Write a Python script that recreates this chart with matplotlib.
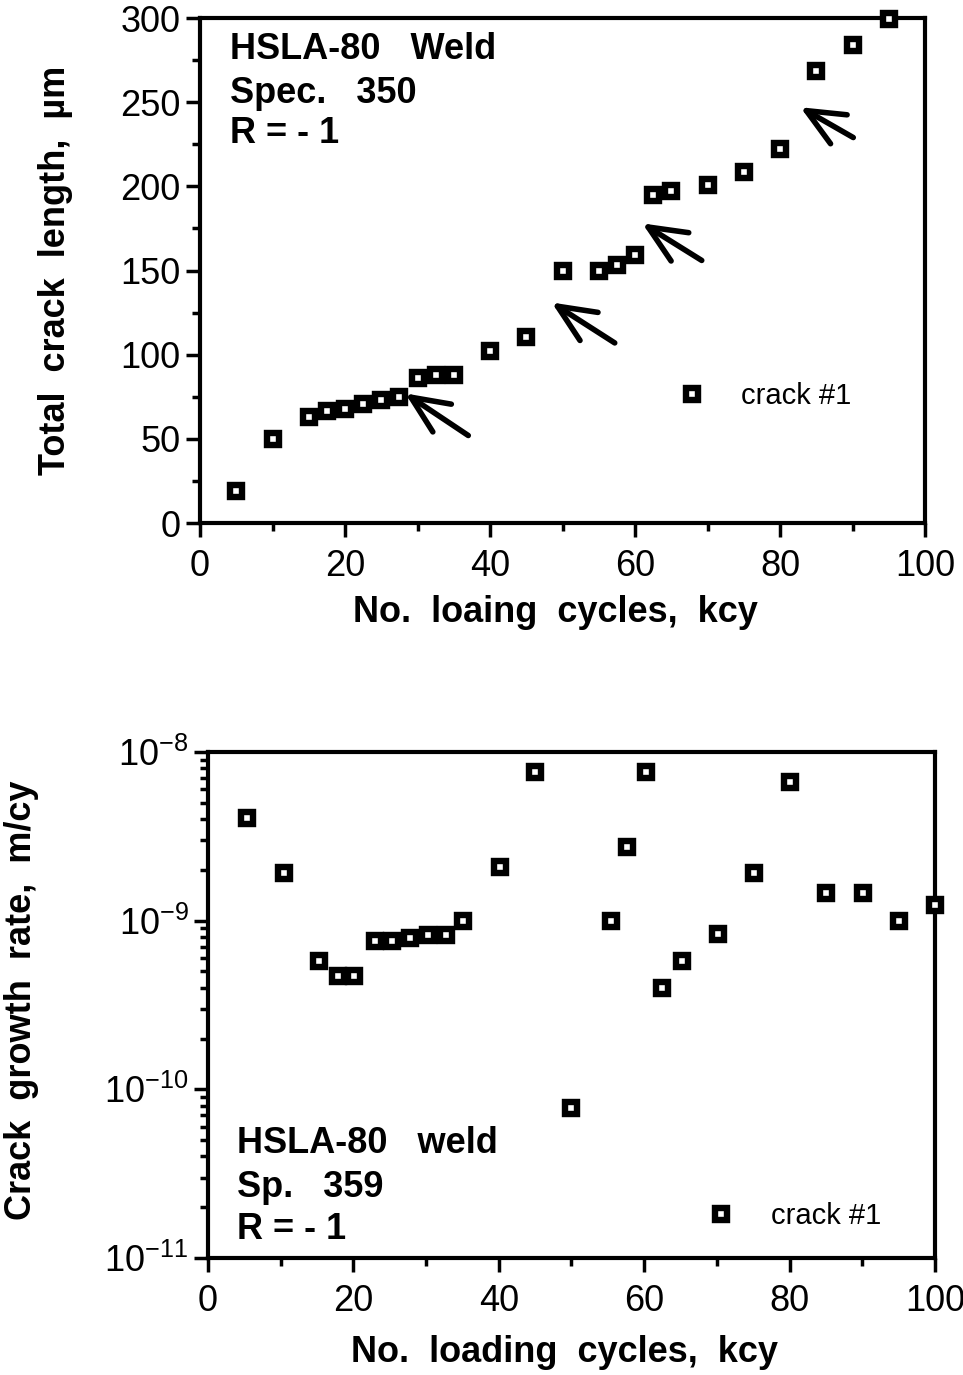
import numpy as np
import matplotlib
matplotlib.use('Agg')
from matplotlib import pyplot as plt
from matplotlib.lines import Line2D
from matplotlib.ticker import MultipleLocator, LogLocator, FixedLocator, NullFormatter

plt.rcParams['font.family'] = ['Liberation Sans', 'DejaVu Sans']
plt.rcParams['mathtext.default'] = 'regular'

# top panel: total crack length vs cycles
cyc_top = [5, 10, 15, 17.5, 20, 22.5, 25, 27.5, 30, 32.5, 35, 40, 45,
           50, 55, 57.5, 60, 62.5, 65, 70, 75, 80, 85, 90, 95]
length_um = [19, 50, 63, 66.5, 68, 71, 73, 75, 86, 88, 88, 102, 110.5,
             150, 150, 153, 159, 195, 197, 201, 208.5, 222, 268.5, 284, 299.5]
# arrows (tip, tail) in data units
arrows_top = [((28.3, 77), (37, 52)),
              ((48.5, 131), (57.2, 107)),
              ((61, 178), (69.2, 156)),
              ((82.8, 247), (90.1, 229))]

# bottom panel: crack growth rate vs cycles
cyc_bot = [5.4, 10.4, 15.3, 17.9, 20.1, 23, 25.3, 27.8, 30.2, 32.8, 35.1, 40.1,
           45, 50, 55.4, 57.6, 60.2, 62.5, 65.2, 70.2, 75.1, 80.1, 85, 90.1, 95.1, 100]
rate = [4.07e-9, 1.92e-9, 5.8e-10, 4.7e-10, 4.7e-10, 7.6e-10, 7.6e-10, 7.9e-10,
        8.2e-10, 8.2e-10, 1.0e-9, 2.09e-9, 7.6e-9, 7.7e-11, 9.9e-10, 2.72e-9,
        7.6e-9, 4.0e-10, 5.8e-10, 8.3e-10, 1.92e-9, 6.65e-9, 1.46e-9, 1.46e-9,
        9.9e-10, 1.24e-9]

mk = dict(marker='s', ls='none', ms=8.5, mew=4.6, mfc='white', mec='black')
FS = 26

fig = plt.figure(figsize=(9.63, 13.75), dpi=100)

# ---- top
ax1 = fig.add_axes([0.2077, 0.6196, 0.7529, 0.3673])
ax1.plot(cyc_top, length_um, clip_on=False, zorder=5, **mk)
for tip, tail in arrows_top:
    ax1.annotate('', xy=tip, xytext=tail,
                 arrowprops=dict(arrowstyle='->,head_length=0.9,head_width=0.4',
                                 lw=4, color='black', mutation_scale=30,
                                 shrinkA=0, shrinkB=0))
ax1.set_xlim(0, 100)
ax1.set_ylim(0, 300)
ax1.xaxis.set_major_locator(MultipleLocator(20))
ax1.xaxis.set_minor_locator(MultipleLocator(10))
ax1.yaxis.set_major_locator(MultipleLocator(50))
ax1.yaxis.set_minor_locator(MultipleLocator(25))
ax1.set_xlabel('No.  loaing  cycles,  kcy', fontsize=FS, fontweight='bold')
ax1.set_ylabel('Total  crack  length,  \u00b5m', fontsize=FS, fontweight='bold')
ax1.xaxis.set_label_coords(0.49, -0.178)
ax1.yaxis.set_label_coords(-0.2, 0.5)
ax1.text(0.041, 0.937, 'HSLA-80   Weld', transform=ax1.transAxes, fontsize=FS,
         fontweight='bold', va='center')
ax1.text(0.041, 0.851, 'Spec.   350', transform=ax1.transAxes, fontsize=FS,
         fontweight='bold', va='center')
ax1.text(0.041, 0.772, 'R = - 1', transform=ax1.transAxes, fontsize=FS,
         fontweight='bold', va='center')
h = Line2D([], [], **mk)
ax1.legend([h], ['crack #1'], loc='center left', bbox_to_anchor=(0.622, 0.251),
           frameon=False, fontsize=21, handlelength=1.0, handletextpad=1.2)

# ---- bottom
ax2 = fig.add_axes([0.216, 0.0851, 0.7549, 0.368])
ax2.plot(cyc_bot, rate, clip_on=False, zorder=5, **mk)
ax2.set_yscale('log')
ax2.set_xlim(0, 100)
ax2.set_ylim(1e-11, 1e-8)
ax2.xaxis.set_major_locator(MultipleLocator(20))
ax2.xaxis.set_minor_locator(MultipleLocator(10))
ax2.yaxis.set_major_locator(FixedLocator([1e-11, 1e-10, 1e-9, 1e-8]))
ax2.yaxis.set_minor_locator(LogLocator(base=10, subs=np.arange(2, 10)))
ax2.yaxis.set_minor_formatter(NullFormatter())
ax2.set_yticklabels(['10$^{- 11}$', '10$^{- 10}$', '10$^{- 9}$', '10$^{- 8}$'])
ax2.set_xlabel('No.  loading  cycles,  kcy', fontsize=FS, fontweight='bold')
ax2.set_ylabel('Crack  growth  rate,  m/cy', fontsize=FS, fontweight='bold')
ax2.xaxis.set_label_coords(0.49, -0.186)
ax2.yaxis.set_label_coords(-0.256, 0.51)
ax2.text(0.04, 0.227, 'HSLA-80   weld', transform=ax2.transAxes, fontsize=FS,
         fontweight='bold', va='center')
ax2.text(0.04, 0.14, 'Sp.   359', transform=ax2.transAxes, fontsize=FS,
         fontweight='bold', va='center')
ax2.text(0.04, 0.057, 'R = - 1', transform=ax2.transAxes, fontsize=FS,
         fontweight='bold', va='center')
ax2.legend([h], ['crack #1'], loc='center left', bbox_to_anchor=(0.65, 0.083),
           frameon=False, fontsize=21, handlelength=1.0, handletextpad=1.2)

for ax in (ax1, ax2):
    for s in ax.spines.values():
        s.set_linewidth(3)
    ax.tick_params(which='both', direction='out', top=False, right=False,
                   labelsize=FS, width=2.5)
    ax.tick_params(axis='x', which='both', pad=9)
    ax.tick_params(axis='y', which='both', pad=4)
    ax.tick_params(which='major', length=10)
    ax.tick_params(which='minor', length=6)
    ax.xaxis.label.set_va('center')
    ax.yaxis.label.set_va('center')

plt.savefig('out.png', dpi=100)
plt.close()
